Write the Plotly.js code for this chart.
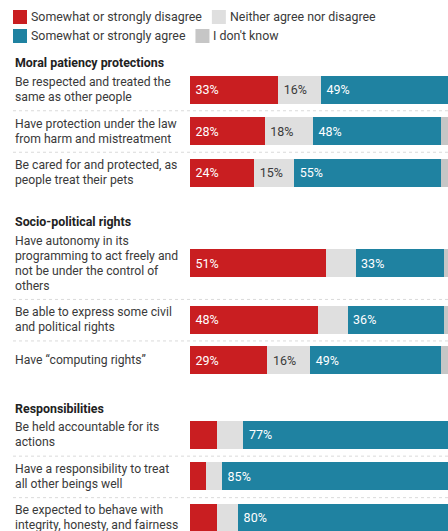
<!DOCTYPE html>
<html>
<head>
<meta charset="utf-8">
<script src="https://cdn.plot.ly/plotly-3.0.1.min.js"></script>
<style>
  html, body { margin: 0; padding: 0; background: #fff; }
  #chart { width: 448px; height: 531px; }
</style>
</head>
<body>
<div id="chart"></div>
<script>
// ---------- DATA ----------
const categories = [
  "Be respected and treated the<br>same as other people",
  "Have protection under the law<br>from harm and mistreatment",
  "Be cared for and protected, as<br>people treat their pets",
  "Have autonomy in its<br>programming to act freely and<br>not be under the control of<br>others",
  "Be able to express some civil<br>and political rights",
  "Have \u201Ccomputing rights\u201D",
  "Be held accountable for its<br>actions",
  "Have a responsibility to treat<br>all other beings well",
  "Be expected to behave with<br>integrity, honesty, and fairness"
];
const groupNames = ["Moral patiency protections", "Socio-political rights", "Responsibilities"];
const groupIndex = [0, 0, 0, 1, 1, 1, 2, 2, 2];
const seriesNames = ["Somewhat or strongly disagree", "Neither agree nor disagree", "Somewhat or strongly agree", "I don't know"];
const disagree = [33, 28, 24, 51, 48, 29, 10, 6, 10];
const neither  = [16, 18, 15, 11, 11, 16, 10, 6, 8];
const agree    = [49, 48, 55, 33, 36, 49, 77, 85, 80];
const dontKnow = [2, 6, 6, 5, 5, 6, 3, 3, 2];

// ---------- STYLE / LAYOUT CONSTANTS ----------
const W = 448, H = 531;
const PLOT_LEFT = 190;
const PX_PER_PCT = 2.67;
const colors = ["#c91e21", "#dfdfdf", "#1f82a1", "#c6c6c6"];
const textColors = ["#ffffff", "#3a3a3a", "#ffffff", "#3a3a3a"];
const FONT = "Roboto, 'Noto Sans', Arial, sans-serif";
const LABEL_SIZE = 12.2, LEGEND_SIZE = 12.4, HEAD_SIZE = 12.4, PCT_SIZE = 12.5;
const BAR_H = 28, LINE_H = 15, ROW_GAP = 11.5, HEAD_TO_ROW = 12.3, GROUP_GAP = 33.4, FIRST_HEAD = 62.7;
const LABEL_X = 13;

// ---------- compute vertical layout (pixel units on y axis) ----------
const centers = [], seps = [], heads = [];
let y = FIRST_HEAD;
groupNames.forEach((g, gi) => {
  heads.push(y);
  y += HEAD_TO_ROW;
  const idx = categories.map((c, i) => i).filter(i => groupIndex[i] === gi);
  idx.forEach((i, k) => {
    const nLines = categories[i].split("<br>").length;
    const h = Math.max(BAR_H, nLines * LINE_H);
    centers.push(y + h / 2 - 0.5);
    y += h;
    if (k < idx.length - 1) { seps.push(y + ROW_GAP / 2); y += ROW_GAP; }
  });
  y += GROUP_GAP;
});

const series = [disagree, neither, agree, dontKnow];
const traces = series.map((vals, s) => ({
  type: "bar",
  orientation: "h",
  name: seriesNames[s],
  x: vals,
  y: centers,
  width: BAR_H,
  marker: { color: colors[s], line: { width: 0 } },
  text: vals.map(v => (s < 3 && v >= 13) ? "\u2009" + v + "%" : ""),
  textposition: "inside",
  insidetextanchor: "start",
  textangle: 0,
  insidetextfont: { family: FONT, size: PCT_SIZE, color: textColors[s] },
  constraintext: "none",
  hoverinfo: "skip",
  showlegend: false
}));

const px = v => v / W; // paper x from pixel
const annotations = [];
const shapes = [];

// headings
groupNames.forEach((g, gi) => {
  annotations.push({
    xref: "paper", yref: "y", x: px(LABEL_X), y: heads[gi],
    xanchor: "left", yanchor: "middle", showarrow: false, align: "left",
    text: "<b>" + g + "</b>",
    font: { family: FONT, size: HEAD_SIZE, color: "#222222" }
  });
});
// row labels (one text per line for exact line spacing)
categories.forEach((c, i) => {
  const lines = c.split("<br>");
  lines.forEach((ln, k) => {
    annotations.push({
      xref: "paper", yref: "y", x: px(LABEL_X),
      y: centers[i] + (k - (lines.length - 1) / 2) * LINE_H,
      xanchor: "left", yanchor: "middle", showarrow: false, align: "left",
      text: ln,
      font: { family: FONT, size: LABEL_SIZE, color: "#3a3a3a" }
    });
  });
});
// separators
seps.forEach(s => {
  shapes.push({
    type: "line", xref: "paper", yref: "y", x0: px(LABEL_X), x1: 1, y0: s, y1: s,
    line: { color: "#dadada", width: 1, dash: "dot" }
  });
});

// legend (custom, flowed by measured text width)
const ctx = document.createElement("canvas").getContext("2d");
ctx.font = LEGEND_SIZE + "px Roboto";
const SW = 14, legendRows = [[0, 1], [2, 3]], legendY = [17, 36];
legendRows.forEach((row, r) => {
  let lx = LABEL_X;
  row.forEach(s => {
    shapes.push({
      type: "rect", xref: "paper", yref: "y",
      x0: px(lx), x1: px(lx + SW), y0: legendY[r] - SW / 2, y1: legendY[r] + SW / 2,
      fillcolor: colors[s], line: { width: 0 }
    });
    annotations.push({
      xref: "paper", yref: "y", x: px(lx + SW + 3), y: legendY[r] - 0.5,
      xanchor: "left", yanchor: "middle", showarrow: false, xshift: -1,
      text: seriesNames[s],
      font: { family: FONT, size: LEGEND_SIZE, color: "#3a3a3a" }
    });
    lx += SW + 3 + ctx.measureText(seriesNames[s]).width + 11;
  });
});

const layout = {
  width: W, height: H,
  margin: { l: 0, r: 0, t: 0, b: 0, pad: 0 },
  paper_bgcolor: "#ffffff", plot_bgcolor: "#ffffff",
  barmode: "stack",
  bargap: 0,
  showlegend: false,
  xaxis: {
    domain: [PLOT_LEFT / W, 1],
    range: [0, (W - PLOT_LEFT) / PX_PER_PCT],
    visible: false, fixedrange: true
  },
  yaxis: {
    domain: [0, 1], range: [H, 0], visible: false, fixedrange: true
  },
  annotations: annotations,
  shapes: shapes,
  font: { family: FONT, size: 12.4, color: "#3a3a3a" },
  uniformtext: { mode: false }
};

Plotly.newPlot("chart", traces, layout, { staticPlot: true, displayModeBar: false });
</script>
</body>
</html>
